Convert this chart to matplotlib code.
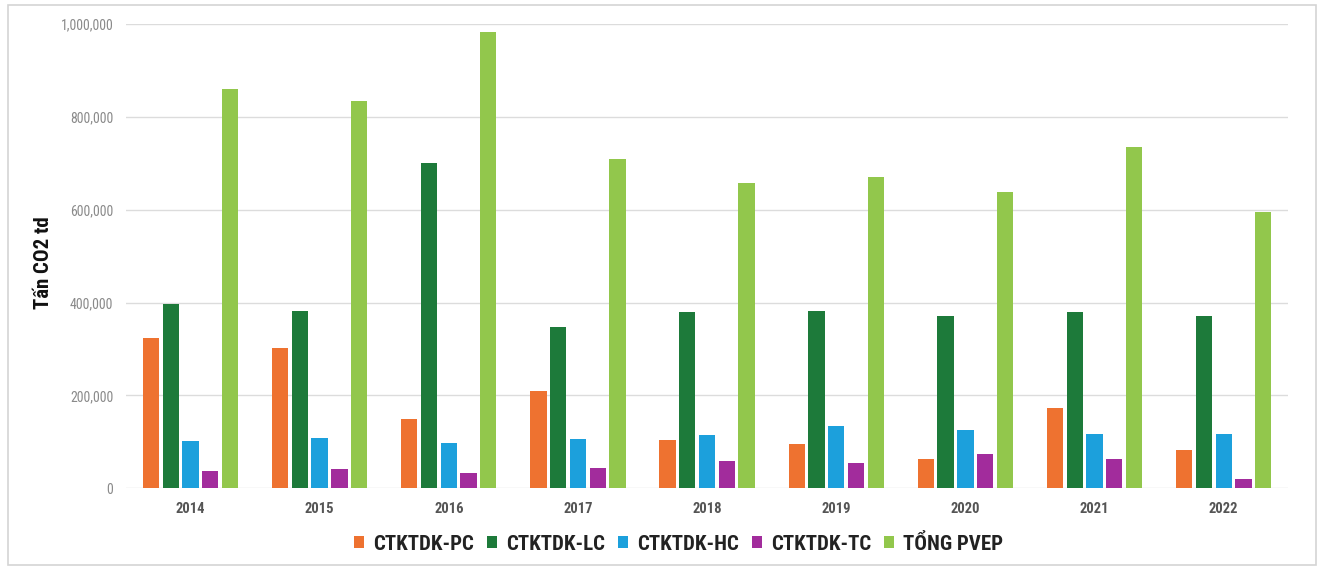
import matplotlib
matplotlib.use("Agg")
import matplotlib.pyplot as plt
from matplotlib.patches import Rectangle
from matplotlib.ticker import FuncFormatter
from matplotlib import font_manager
import numpy as np

years = ["2014", "2015", "2016", "2017", "2018", "2019", "2020", "2021", "2022"]
series_names = ["CTKTDK-PC", "CTKTDK-LC", "CTKTDK-HC", "CTKTDK-TC", "TỔNG PVEP"]
pc = [324000, 303000, 150000, 209000, 104000, 95000, 64000, 174000, 82000]
lc = [397000, 381000, 700000, 348000, 380000, 381000, 372000, 379000, 372000]
hc = [102000, 109000, 98000, 106000, 115000, 134000, 126000, 116000, 118000]
tc = [37000, 41000, 34000, 43000, 59000, 54000, 73000, 64000, 20000]
total = [860000, 835000, 982000, 710000, 658000, 670000, 639000, 736000, 596000]
colors = ["#EE7230", "#1D7A3A", "#1CA0DC", "#A22C9C", "#92C74C"]
y_ticks = [0, 200000, 400000, 600000, 800000, 1000000]

# prefer a condensed face for the labels when one is installed
installed = {f.name for f in font_manager.fontManager.ttflist}
narrow = [n for n in ["Liberation Sans Narrow", "DejaVu Sans Condensed", "Roboto Condensed",
                      "Open Sans Condensed"] if n in installed]
plt.rcParams["font.family"] = narrow + ["Liberation Sans", "DejaVu Sans"]
cond = bool(narrow)

fig = plt.figure(figsize=(13.24, 5.68), dpi=100)
fig.patch.set_facecolor("white")
# thin frame around the whole figure
fig.add_artist(Rectangle((0.006, 0.005), 0.988, 0.987, transform=fig.transFigure,
                         fill=False, edgecolor="#d4d4d4", linewidth=1.2))

ax = fig.add_axes([0.0951, 0.1403, 0.8779, 0.8174])
x = np.arange(len(years))
width = 0.126
step = 0.153
for i, (vals, name, col) in enumerate(zip([pc, lc, hc, tc, total], series_names, colors)):
    ax.bar(x + (i - 2) * step, vals, width=width, color=col, label=name, zorder=3)

ax.set_xlim(-0.5, len(years) - 0.5)
ax.set_ylim(0, 1000000)
ax.set_yticks(y_ticks)
ax.yaxis.set_major_formatter(FuncFormatter(lambda v, p: f"{int(v):,}"))
ax.set_xticks(x)
ax.set_xticklabels(years)
ax.grid(axis="y", color="#dcdcdc", linewidth=1.0, zorder=0)
for s in ax.spines.values():
    s.set_visible(False)
ax.tick_params(axis="y", length=0, pad=9, labelsize=10, labelcolor="#8a8a8a")
ax.tick_params(axis="x", length=0, pad=10, labelsize=10.5, labelcolor="#555555")
for lab in ax.get_xticklabels():
    lab.set_fontweight("bold")

ax.set_ylabel("Tấn CO2 td", fontsize=15 if cond else 12.5, fontweight="bold", color="#111111",
              labelpad=8)
ax.yaxis.set_label_coords(-0.063, 0.486)

leg = fig.legend(loc="center", bbox_to_anchor=(0.5125, 0.043), ncol=5, frameon=False,
                 prop={"weight": "bold", "size": 15 if cond else 12.5},
                 handlelength=0.48, handleheight=0.53,
                 handletextpad=0.43, columnspacing=0.62)
for t in leg.get_texts():
    t.set_color("#222222")

fig.savefig("out.png", dpi=100, facecolor="white")
